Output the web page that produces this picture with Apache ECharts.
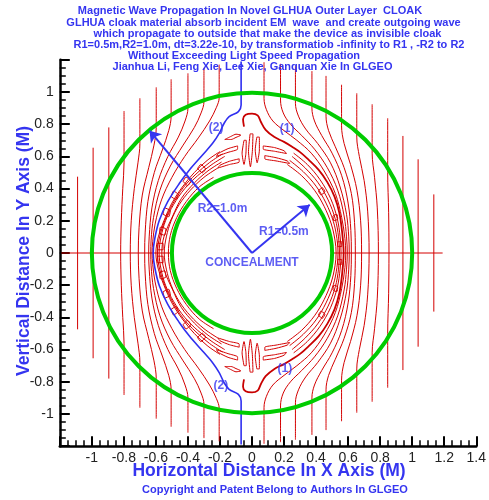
<!DOCTYPE html>
<html>
<head>
<meta charset="utf-8">
<script src="https://cdn.jsdelivr.net/npm/echarts@6/dist/echarts.min.js"></script>
<style>html,body{margin:0;padding:0;background:#fff;}#c{width:489px;height:500px;}</style>
</head>
<body>
<div id="c"></div>
<script>
// ---------------- DATA ----------------
const titleLines = [
  'Magnetic Wave Propagation In Novel GLHUA Outer Layer  CLOAK',
  'GLHUA cloak material absorb incident EM  wave  and create outgoing wave',
  'which propagate to outside that make the device as invisible cloak',
  'R1=0.5m,R2=1.0m, dt=3.22e-10, by transformatiob -infinity to R1 , -R2 to R2',
  'Without Exceeding Light Speed Propagation',
  'Jianhua Li, Feng Xie, Lee Xie, Ganquan Xie In GLGEO'
];
const xAxisTitle = 'Horizontal Distance In X Axis (M)';
const yAxisTitle = 'Vertical Distance In Y Axis (M)';
const footer = 'Copyright and Patent Belong to Authors In GLGEO';

// straight vertical contours: [x, half-length (top y)]
const straightLines = [[-1.089,0.474],[-0.992,0.654],[-0.894,0.78],[0.942,0.727],[1.037,0.582],[1.135,0.364]];
// horizontal contour along y = 0 (outside the concealment)
const horizontalSegs = [[[-1.19,0],[-0.5,0]],[[0.5,0],[1.19,0]]];

// upper halves of contours that bend around the left side (outside blue line)
const leftCurvesTop = [
  [[-0.205,1.17],[-0.205,0.965],[-0.222,0.905],[-0.265,0.82],[-0.335,0.715],[-0.42,0.6],[-0.5,0.47],[-0.565,0.33],[-0.605,0.18],[-0.62,0.07],[-0.624,0]],
  [[-0.30,1.15],[-0.30,0.94],[-0.318,0.87],[-0.36,0.78],[-0.43,0.67],[-0.51,0.54],[-0.575,0.39],[-0.615,0.22],[-0.63,0.08],[-0.632,0]],
  [[-0.40,1.116],[-0.40,0.90],[-0.418,0.82],[-0.46,0.72],[-0.525,0.6],[-0.585,0.45],[-0.625,0.28],[-0.642,0.1],[-0.645,0]],
  [[-0.505,1.079],[-0.505,0.85],[-0.52,0.76],[-0.56,0.64],[-0.61,0.5],[-0.65,0.32],[-0.667,0.13],[-0.67,0]],
  [[-0.598,1.029],[-0.598,0.78],[-0.612,0.67],[-0.645,0.53],[-0.685,0.36],[-0.705,0.16],[-0.71,0]],
  [[-0.70,0.961],[-0.70,0.68],[-0.712,0.56],[-0.735,0.4],[-0.754,0.2],[-0.76,0]],
  [[-0.799,0.882],[-0.799,0.56],[-0.807,0.4],[-0.816,0.2],[-0.82,0]]
];
// upper halves of contours that bend around the right side (outside line (1))
const rightCurvesTop = [
  [[0.075,1.185],[0.075,0.96],[0.09,0.89],[0.13,0.82],[0.2,0.76],[0.28,0.70],[0.37,0.62],[0.45,0.51],[0.52,0.37],[0.56,0.22],[0.58,0.09],[0.585,0]],
  [[0.178,1.175],[0.178,0.95],[0.195,0.87],[0.24,0.80],[0.31,0.73],[0.39,0.645],[0.47,0.53],[0.535,0.39],[0.575,0.23],[0.59,0.1],[0.595,0]],
  [[0.271,1.16],[0.271,0.93],[0.29,0.85],[0.335,0.77],[0.41,0.68],[0.49,0.56],[0.55,0.41],[0.59,0.24],[0.604,0.1],[0.607,0]],
  [[0.374,1.13],[0.374,0.90],[0.39,0.82],[0.435,0.73],[0.5,0.62],[0.56,0.48],[0.6,0.31],[0.617,0.14],[0.62,0]],
  [[0.462,1.10],[0.462,0.85],[0.478,0.76],[0.52,0.66],[0.575,0.53],[0.62,0.37],[0.64,0.19],[0.645,0]],
  [[0.559,1.045],[0.559,0.79],[0.575,0.68],[0.615,0.55],[0.655,0.39],[0.678,0.2],[0.684,0]],
  [[0.654,0.992],[0.654,0.72],[0.67,0.6],[0.7,0.45],[0.722,0.26],[0.731,0]],
  [[0.75,0.924],[0.75,0.62],[0.765,0.47],[0.782,0.28],[0.789,0]],
  [[0.847,0.837],[0.847,0.5],[0.853,0.25],[0.855,0]]
];
// contour (2) (blue) and contour (1) (dark red), upper halves
const blueCurveTop = [[-0.068,1.19],[-0.068,0.92],[-0.085,0.878],[-0.143,0.847],[-0.174,0.806],[-0.205,0.743],[-0.246,0.681],[-0.309,0.609],[-0.391,0.516],[-0.453,0.433],[-0.526,0.319],[-0.578,0.205],[-0.607,0.09],[-0.617,0]];
const redOneTop = [[-0.05,0.785],[-0.056,0.83],[-0.04,0.858],[0.0,0.866],[0.035,0.855],[0.055,0.815],[0.085,0.765],[0.14,0.72],[0.2,0.69],[0.25,0.66],[0.302,0.625],[0.354,0.578],[0.416,0.516],[0.47,0.44],[0.515,0.35],[0.545,0.25],[0.563,0.125],[0.572,0]];
// dense contours hugging the concealment, upper halves
const innerArcsTop = [
  [[-0.2,0.63],[-0.28,0.575],[-0.36,0.5],[-0.435,0.41],[-0.5,0.31],[-0.55,0.2],[-0.585,0.1],[-0.6,0]],
  [[-0.185,0.615],[-0.265,0.562],[-0.35,0.49],[-0.43,0.405],[-0.495,0.305],[-0.545,0.2],[-0.577,0.1],[-0.59,0]],
  [[-0.17,0.6],[-0.25,0.55],[-0.34,0.48],[-0.42,0.4],[-0.49,0.3],[-0.54,0.2],[-0.568,0.1],[-0.58,0]],
  [[-0.19,0.565],[-0.275,0.51],[-0.36,0.435],[-0.44,0.34],[-0.495,0.23],[-0.55,0.1],[-0.563,0]],
  [[-0.21,0.53],[-0.3,0.47],[-0.385,0.39],[-0.455,0.3],[-0.505,0.2],[-0.535,0.1],[-0.548,0]],
  [[-0.24,0.47],[-0.33,0.41],[-0.41,0.32],[-0.47,0.22],[-0.51,0.11],[-0.522,0]],
  [[0.26,0.62],[0.345,0.55],[0.425,0.455],[0.49,0.34],[0.532,0.215],[0.55,0.1],[0.556,0]],
  [[0.25,0.6],[0.33,0.53],[0.41,0.44],[0.475,0.33],[0.52,0.21],[0.54,0.1],[0.546,0]],
  [[0.235,0.575],[0.32,0.505],[0.4,0.415],[0.462,0.31],[0.508,0.195],[0.53,0.09],[0.537,0]],
  [[0.22,0.55],[0.31,0.48],[0.39,0.39],[0.45,0.29],[0.495,0.18],[0.518,0.08],[0.525,0]]
];
// small closed contour loops (upper side; mirrored below)
const loopsTop = [
  [[-0.05,0.70],[-0.062,0.62],[-0.05,0.55],[-0.038,0.62],[-0.036,0.70],[-0.05,0.70]],
  [[-0.012,0.74],[-0.022,0.63],[-0.01,0.535],[0.002,0.63],[0.006,0.74],[-0.012,0.74]],
  [[0.03,0.72],[0.02,0.64],[0.032,0.56],[0.046,0.64],[0.046,0.72],[0.03,0.72]],
  [[0.07,0.665],[0.14,0.655],[0.2,0.635],[0.215,0.618],[0.14,0.632],[0.07,0.645],[0.07,0.665]],
  [[0.08,0.605],[0.15,0.592],[0.22,0.572],[0.235,0.556],[0.15,0.572],[0.08,0.585],[0.08,0.605]],
  [[-0.09,0.665],[-0.15,0.648],[-0.21,0.618],[-0.222,0.6],[-0.15,0.625],[-0.09,0.645],[-0.09,0.665]],
  [[-0.08,0.585],[-0.14,0.57],[-0.2,0.545],[-0.212,0.528],[-0.14,0.55],[-0.08,0.565],[-0.08,0.585]],
  [[-0.17,0.705],[-0.13,0.725],[-0.1,0.738],[-0.07,0.732],[-0.1,0.718],[-0.13,0.705],[-0.17,0.705]],
  [[-0.59,0.02],[-0.555,0.02],[-0.555,0.06],[-0.59,0.06],[-0.59,0.02]],
  [[-0.578,0.12],[-0.545,0.11],[-0.538,0.15],[-0.572,0.16],[-0.578,0.12]],
  [[-0.555,0.24],[-0.52,0.225],[-0.51,0.262],[-0.545,0.28],[-0.555,0.24]],
  [[-0.505,0.35],[-0.475,0.332],[-0.46,0.362],[-0.49,0.385],[-0.505,0.35]],
  [[-0.43,0.445],[-0.402,0.418],[-0.383,0.445],[-0.412,0.472],[-0.43,0.445]],
  [[-0.34,0.525],[-0.31,0.498],[-0.29,0.522],[-0.32,0.55],[-0.34,0.525]],
  [[0.535,0.04],[0.56,0.04],[0.56,0.07],[0.535,0.07],[0.535,0.04]],
  [[0.51,0.2],[0.535,0.21],[0.53,0.24],[0.505,0.23],[0.51,0.2]],
  [[0.43,0.36],[0.455,0.38],[0.44,0.405],[0.415,0.385],[0.43,0.36]]
];
// circles: [cx, cy, radius]
const circles = [[0,0,0.5],[0,0,1.0]];
// radius arrows: [from, to]
const arrows = [[[0,0],[-0.64,0.76]],[[0,0],[0.36,0.30]]];
// in-plot labels: [x, y, text]
const plotLabels = [
  [-0.224,0.776,'(2)'],[0.219,0.774,'(1)'],[-0.194,-0.826,'(2)'],[0.205,-0.716,'(1)'],
  [-0.184,0.278,'R2=1.0m'],[0.199,0.132,'R1=0.5m'],[0,-0.06,'CONCEALMENT']
];

// ---------------- BUILD ----------------
const FONT = '"Liberation Sans", Arial, Helvetica, sans-serif';
const BLUE = '#3535f0';
const RED = '#d40000';

function mirrorFull(top){ // curve symmetric about y=0: top half + mirrored bottom half
  const bottom = top.slice(0,-1).reverse().map(p=>[p[0],-p[1]]);
  return top.concat(bottom);
}
function mirrorOnly(pts){ return pts.map(p=>[p[0],-p[1]]); }

const series = [];
function addLine(data, color, width, z, smooth){
  series.push({type:'line', data:data, showSymbol:false, symbol:'none', smooth:smooth||0,
    lineStyle:{color:color, width:width}, z:z, silent:true, animation:false});
}
straightLines.forEach(s=>addLine([[s[0],s[1]],[s[0],-s[1]]], RED, 1, 2));
horizontalSegs.forEach(s=>addLine(s, RED, 1, 2));
leftCurvesTop.forEach(c=>addLine(mirrorFull(c), RED, 1, 2, 0.35));
rightCurvesTop.forEach(c=>addLine(mirrorFull(c), RED, 1, 2, 0.35));
innerArcsTop.forEach(c=>addLine(mirrorFull(c), RED, 1, 2, 0.35));
loopsTop.forEach(c=>{ addLine(c, RED, 1, 2, 0.2); addLine(mirrorOnly(c), RED, 1, 2, 0.2); });
addLine(mirrorFull(redOneTop), '#c80000', 1.8, 3, 0.35);
addLine(mirrorFull(blueCurveTop), '#2f2ff0', 1.6, 4, 0.35);

series.push({
  type:'custom', data:circles, z:6, silent:true, animation:false,
  renderItem:function(params, api){
    const c = api.coord([api.value(0), api.value(1)]);
    const r = api.size([api.value(2), 0])[0];
    return {type:'circle', shape:{cx:c[0], cy:c[1], r:r}, style:{fill:'none', stroke:'#00cc00', lineWidth:4}};
  }
});
series.push({
  type:'lines', coordinateSystem:'cartesian2d', z:8, silent:true, animation:false,
  symbol:['none','arrow'], symbolSize:11,
  lineStyle:{color:BLUE, width:2, opacity:1},
  data: arrows.map(a=>({coords:a}))
});
series.push({
  type:'scatter', data:plotLabels, symbolSize:0, z:10, silent:true, animation:false,
  label:{show:true, position:'inside', formatter:p=>p.value[2], color:BLUE, fontWeight:'bold', fontSize:12, fontFamily:FONT}
});

const titleCenters = [[250,11],[263.5,22.5],[267.5,33.5],[269,44.5],[244,55.5],[252.5,66.5]];
const graphics = titleLines.map((t,i)=>({
  type:'text', x:titleCenters[i][0], y:titleCenters[i][1], z:20,
  style:{text:t, font:'bold 11px '+FONT, fill:BLUE, align:'center', verticalAlign:'middle'}
}));
graphics.push({type:'text', x:269, y:471, z:20, style:{text:xAxisTitle, font:'bold 17.5px '+FONT, fill:BLUE, align:'center', verticalAlign:'middle'}});
graphics.push({type:'text', x:24, y:251, rotation:Math.PI/2, z:20, style:{text:yAxisTitle, font:'bold 17.5px '+FONT, fill:BLUE, align:'center', verticalAlign:'middle'}});
graphics.push({type:'text', x:275, y:490, z:20, style:{text:footer, font:'bold 11px '+FONT, fill:BLUE, align:'center', verticalAlign:'middle'}});

const axisCommon = {
  type:'value', interval:0.2, splitLine:{show:false},
  axisLine:{show:true, onZero:false, lineStyle:{color:'#000', width:2.5}},
  axisTick:{show:true, inside:true, length:10, lineStyle:{color:'#000', width:2}},
  minorTick:{show:true, splitNumber:4, length:6, lineStyle:{color:'#000', width:1.5}},
  minorSplitLine:{show:false},
  axisLabel:{color:'#222', fontSize:14, fontFamily:FONT, showMinLabel:false,
    formatter:v=>String(Math.round(v*10)/10)}
};
const chart = echarts.init(document.getElementById('c'), null, {renderer:'canvas'});
chart.setOption({
  animation:false,
  backgroundColor:'#fff',
  grid:{left:59.8, top:59.8, width:418.6, height:386.4, containLabel:false},
  xAxis:Object.assign({}, axisCommon, {min:-1.2, max:1.4,
    axisLabel:Object.assign({}, axisCommon.axisLabel, {margin:5})}),
  yAxis:Object.assign({}, axisCommon, {min:-1.2, max:1.2,
    axisLabel:Object.assign({}, axisCommon.axisLabel, {margin:6, showMaxLabel:false})}),
  graphic:graphics,
  series:series
});
</script>
</body>
</html>
